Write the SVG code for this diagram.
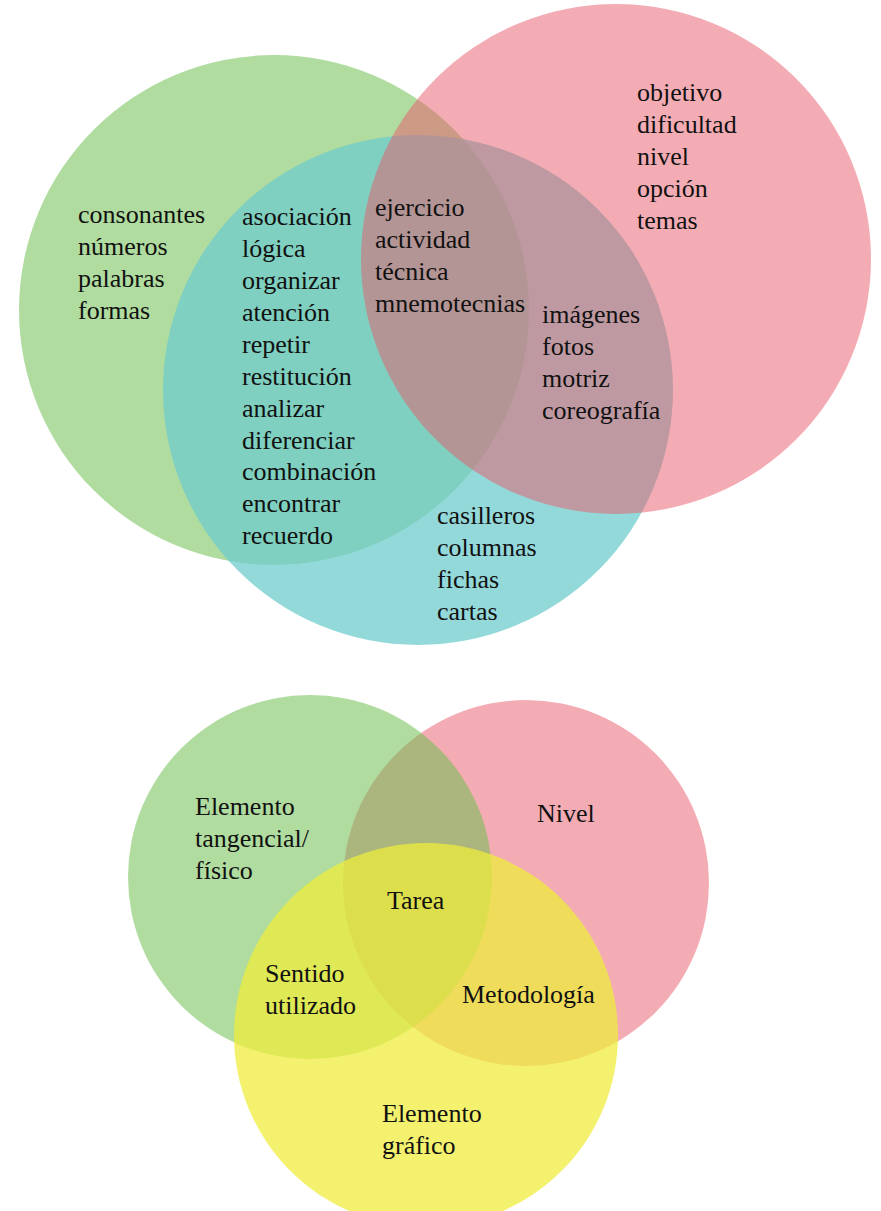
<svg xmlns="http://www.w3.org/2000/svg" width="881" height="1211" viewBox="0 0 881 1211">
  <style>
    .lbl { font-family: "Liberation Serif", "DejaVu Serif", serif; font-size: 26px; fill: #111; }
  </style>
  <rect width="881" height="1211" fill="#ffffff"/>

  <!-- Upper diagram: three overlapping sets -->
  <g id="top-green"><circle cx="274" cy="310" r="255" fill="#b0dca0"/></g>
  <g id="top-teal"><circle cx="418" cy="390" r="255" fill="#6ccbcc" fill-opacity="0.73"/></g>
  <g id="top-pink"><circle cx="616" cy="259" r="255" fill="#e9596a" fill-opacity="0.5"/></g>

  <g id="top-labels" class="lbl">
    <text x="78" y="223">consonantes</text>
    <text x="78" y="255">números</text>
    <text x="78" y="287">palabras</text>
    <text x="78" y="319">formas</text>

    <text x="242" y="225">asociación</text>
    <text x="242" y="257">lógica</text>
    <text x="242" y="289">organizar</text>
    <text x="242" y="321">atención</text>
    <text x="242" y="353">repetir</text>
    <text x="242" y="385">restitución</text>
    <text x="242" y="417">analizar</text>
    <text x="242" y="449">diferenciar</text>
    <text x="242" y="480">combinación</text>
    <text x="242" y="512">encontrar</text>
    <text x="242" y="544">recuerdo</text>

    <text x="375" y="216">ejercicio</text>
    <text x="375" y="248">actividad</text>
    <text x="375" y="280">técnica</text>
    <text x="375" y="312">mnemotecnias</text>

    <text x="637" y="101">objetivo</text>
    <text x="637" y="133">dificultad</text>
    <text x="637" y="165">nivel</text>
    <text x="637" y="197">opción</text>
    <text x="637" y="229">temas</text>

    <text x="542" y="323">imágenes</text>
    <text x="542" y="355">fotos</text>
    <text x="542" y="387">motriz</text>
    <text x="542" y="419">coreografía</text>

    <text x="437" y="524">casilleros</text>
    <text x="437" y="556">columnas</text>
    <text x="437" y="588">fichas</text>
    <text x="437" y="620">cartas</text>
  </g>

  <!-- Lower diagram: three overlapping sets -->
  <g id="bottom-pink"><circle cx="526" cy="883" r="183" fill="#f4acb4"/></g>
  <g id="bottom-green"><circle cx="310" cy="877" r="182" fill="#6fbf52" fill-opacity="0.55"/></g>
  <g id="bottom-yellow"><circle cx="426" cy="1035" r="192" fill="#efec3c" fill-opacity="0.74"/></g>

  <g id="bottom-labels" class="lbl">
    <text x="195" y="815">Elemento</text>
    <text x="195" y="847">tangencial/</text>
    <text x="195" y="879">físico</text>
    <text x="537" y="822">Nivel</text>
    <text x="387" y="909">Tarea</text>
    <text x="265" y="982">Sentido</text>
    <text x="265" y="1014">utilizado</text>
    <text x="462" y="1003">Metodología</text>
    <text x="382" y="1122">Elemento</text>
    <text x="382" y="1154">gráfico</text>
  </g>
</svg>
